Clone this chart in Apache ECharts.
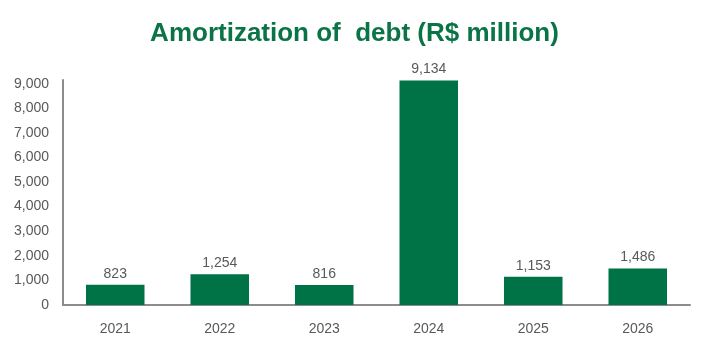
<!DOCTYPE html>
<html><head><meta charset="utf-8">
<script src="https://cdn.jsdelivr.net/npm/echarts@6/dist/echarts.min.js"></script>
<style>html,body{margin:0;padding:0;background:#fff}#c{width:709px;height:347px}</style>
</head><body><div id="c"></div>
<script>
const categories = ['2021','2022','2023','2024','2025','2026'];
const amortization = [823, 1254, 816, 9134, 1153, 1486];
const titleText = 'Amortization of  debt (R$ million)';

const chart = echarts.init(document.getElementById('c'), null, {renderer:'canvas'});
const fmt = v => Number(v).toLocaleString('en-US');
chart.setOption({
  animation:false,
  title:{text:titleText, left:'center', top:16,
    textStyle:{color:'#0B7447', fontFamily:'Liberation Sans Narrow, Liberation Sans, sans-serif', fontWeight:'bold', fontSize:26}},
  grid:{left:63, right:19, top:80, bottom:42, containLabel:false},
  xAxis:{type:'category', data:categories,
    axisLine:{lineStyle:{color:'#8c8c8c', width:2}},
    axisTick:{show:false},
    axisLabel:{color:'#595959', fontSize:14, fontFamily:'Liberation Sans, sans-serif', margin:17}},
  yAxis:{type:'value', min:0, max:9150, interval:1000,
    axisLine:{show:true, lineStyle:{color:'#8c8c8c', width:2}},
    axisTick:{show:false}, splitLine:{show:false},
    axisLabel:{color:'#595959', fontSize:14, fontFamily:'Liberation Sans, sans-serif', margin:14, showMaxLabel:false,
      formatter:v=>fmt(v)}},
  series:[{type:'bar', data:amortization, barWidth:'56%',
    itemStyle:{color:'#007346'},
    label:{show:true, position:'top', distance:4, color:'#595959', fontSize:14,
      fontFamily:'Liberation Sans, sans-serif', formatter:p=>fmt(p.value)}}]
});
</script></body></html>
